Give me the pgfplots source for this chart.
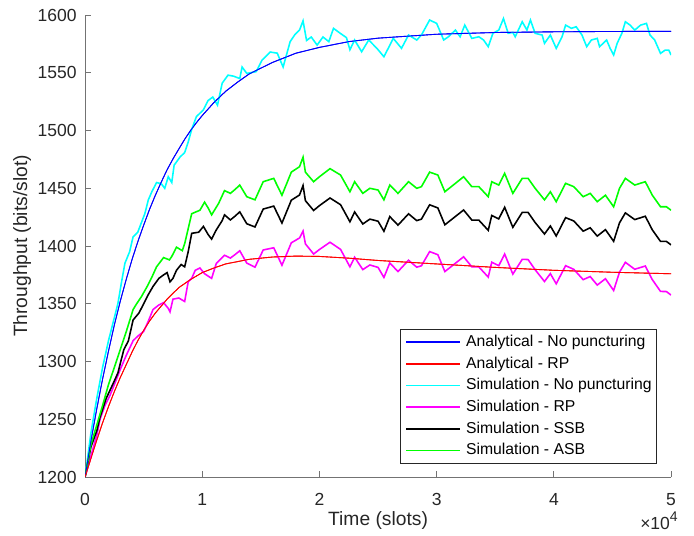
\documentclass[border=0pt]{standalone}
\usepackage{pgfplots}
\pgfplotsset{compat=1.18}
\usepackage{fontspec}
\setmainfont{Liberation Sans}
\definecolor{axgray}{rgb}{0.15,0.15,0.15}
\definecolor{mblue}{rgb}{0,0,1}
\definecolor{mred}{rgb}{1,0,0}
\definecolor{mcyan}{rgb}{0,1,1}
\definecolor{mmagenta}{rgb}{1,0,1}
\definecolor{mgreen}{rgb}{0,1,0}
\definecolor{mblack}{rgb}{0,0,0}
\pgfplotstableread{
t v
0 1200
500 1231
1000 1259
1500 1285
2000 1309
2500 1331.6
3000 1352
3500 1370.6
4000 1388
4500 1403.7
5000 1418
5500 1431.7
6000 1444
6500 1455.3
7000 1466
7500 1475.4
8000 1484
8500 1492.4
9000 1500
9500 1506.8
10000 1513
11000 1524.3
12000 1534
13000 1541.8
14000 1549
16000 1559
18000 1567
20000 1572
22500 1577
25000 1580
30000 1583.4
35000 1584.9
40000 1585.5
45000 1585.8
50000 1585.9
}\anablue
\pgfplotstableread{
t v
0 1200
500 1216
1000 1232
1500 1247
2000 1261
2500 1274
3000 1286
3500 1297
4000 1308
4500 1318
5000 1327
5500 1335
6000 1342
7000 1354
8000 1364
9000 1371
10000 1377
11000 1381
12000 1384.5
14000 1388.5
16000 1390.5
18000 1391.3
20000 1391
22500 1389.5
25000 1387.5
30000 1384.5
35000 1381.5
40000 1379
45000 1377.3
50000 1376
}\anared
\begin{document}
\begin{tikzpicture}
\useasboundingbox (-48.6pt,-33.7pt) rectangle (348pt,272.6pt);
\begin{axis}[
  name=ax,
  at={(0pt,0pt)}, anchor=south west,
  scale only axis, width=334.9pt, height=264pt,
  xmin=0, xmax=50000, ymin=1200, ymax=1600,
  axis x line*=bottom, axis y line*=left,
  axis line style={-, draw=black!55, line width=0.55pt},
  every tick/.style={draw=black!55, line width=0.55pt},
  tick align=inside, major tick length=3.3pt,
  xtick={0,10000,20000,30000,40000,50000},
  xticklabels={0,1,2,3,4,5},
  scaled x ticks=false,
  ytick={1200,1250,1300,1350,1400,1450,1500,1550,1600},
  /pgf/number format/assume math mode=true,
  /pgf/number format/1000 sep={},
  tick label style={font=\fontsize{10}{12}\selectfont, text=axgray},
  xticklabel style={yshift=-6pt},
  yticklabel style={xshift=-1.3pt},
  xlabel={Time (slots)},
  ylabel={Throughput (bits/slot)},
  label style={font=\fontsize{11}{13}\selectfont, text=axgray},
  xlabel style={at={(axis description cs:0.5,-0.094)}, anchor=center},
  ylabel style={at={(axis description cs:-0.1075,0.5)}, anchor=center, rotate=0},
  legend cell align=left,
  legend image code/.code={\draw[#1] (0pt,0pt) -- (31pt,0pt);},
  legend image post style={line width=1pt},
  legend style={at={(axis description cs:1,0)}, anchor=south east, xshift=-8pt, yshift=7.4pt,
    draw=axgray, line width=0.4pt, fill=white, inner xsep=2.9pt, inner ysep=3pt,
    row sep=3.4pt, font=\fontsize{9}{11}\selectfont,
    nodes={inner sep=0pt, text height=7pt, text depth=2pt},
    /tikz/every odd column/.append style={column sep=2.7pt}},
]
\addplot[color=mblue, line width=0.5pt] table[x=t,y=v] {\anablue};
\addlegendentry{Analytical - No puncturing}
\addplot[color=mred, line width=0.5pt] table[x=t,y=v] {\anared};
\addlegendentry{Analytical - RP}
% Simulation - No puncturing
\addplot[color=mcyan, line width=0.9pt] coordinates {
(0,1200) (500,1238) (1000,1268) (1500,1295) (2000,1318) (2500,1338) (2800,1350) (3100,1368) (3400,1385) (3800,1395)
(4100,1408) (4500,1412) (4800,1420) (5100,1428) (5400,1440) (5700,1447) (6100,1455) (6500,1454) (6800,1450) (7100,1460)
(7400,1455) (7600,1470) (8100,1477) (8500,1481) (8800,1490) (9100,1501) (9500,1512) (10100,1518) (10500,1526) (10900,1529)
(11300,1522) (11700,1541) (12200,1548) (12700,1547) (13200,1545) (13400,1555) (13800,1549.5) (14600,1551) (15100,1561) (15800,1568)
(16400,1567) (16900,1555) (17500,1577) (17900,1583) (18300,1587) (18600,1595) (18900,1578) (19300,1581) (19800,1574) (20300,1581)
(20800,1577) (21200,1588.5) (21800,1584) (22300,1580.5) (22600,1570) (23000,1578.4) (23600,1568.2) (24200,1578.4) (24900,1571.2) (25500,1563.9)
(26300,1579.8) (27000,1571.2) (27600,1582.7) (28300,1578.4) (28700,1582.7) (29400,1595.7) (30000,1592.8) (30600,1578.4) (31000,1581.2) (31600,1587)
(32000,1581.2) (32400,1591.3) (33000,1579.8) (33600,1581.2) (34000,1578.4) (34400,1572.6) (34800,1584.2) (35300,1587) (35700,1597) (36100,1584.2)
(36500,1585) (36700,1581.2) (37300,1594.2) (37700,1587) (38000,1595.7) (38400,1584.2) (39000,1582.7) (39200,1575.5) (39700,1582.7) (40200,1571.2)
(40700,1581.2) (41000,1591.3) (41500,1588.5) (41900,1589.9) (42400,1582.7) (42800,1572.6) (43200,1578.4) (43700,1579.8) (43900,1572.6) (44500,1578.4)
(44800,1571.2) (45100,1565.4) (45400,1575.5) (45800,1584.2) (46100,1594.2) (46500,1591.3) (46900,1587) (47400,1591.3) (47900,1592.8) (48200,1582.7)
(48600,1578.4) (49100,1566.8) (49500,1569.7) (49800,1569.7) (50000,1565.4)
};
\addlegendentry{Simulation - No puncturing}
% Simulation - RP
\addplot[color=mmagenta, line width=0.9pt] coordinates {
(0,1200) (500,1218) (1000,1236) (1280,1250) (1700,1262) (2100,1270) (2500,1280) (3000,1293) (3500,1305) (4100,1318)
(4500,1322) (5000,1326) (5400,1335) (5800,1345) (6300,1349) (6700,1351) (7100,1346) (7250,1343) (7500,1354) (8000,1355)
(8500,1352) (8800,1369) (9100,1372) (9400,1379) (9800,1381) (10200,1376) (10800,1372) (11200,1385) (11900,1392)
(12400,1389.6) (12800,1392.6) (13200,1395.9) (13800,1385.2) (14500,1381.7) (15200,1396.6) (16100,1398.5) (16800,1383.4) (17600,1402.8) (18300,1407)
(18600,1413) (18800,1401.9) (19500,1393.1) (20000,1397) (20900,1403.3) (21800,1397.1) (22600,1382) (23000,1390.3) (23700,1379.6) (24300,1383.6)
(25000,1381.5) (25500,1372.8) (26000,1385.4) (26700,1377.9) (27600,1387.7) (28300,1381.7) (28700,1382.9) (29400,1395.2) (30100,1392.5) (30700,1377.9)
(31600,1385.1) (32300,1390.7) (33000,1382) (33600,1381.9) (34400,1373.1) (34700,1386) (35300,1383) (35800,1393.1) (36500,1375.7) (37300,1388.5)
(37800,1388.3) (38400,1379.5) (39200,1369.3) (39700,1376.1) (40200,1367.3) (41000,1383) (41700,1379.8) (42500,1370.9) (43100,1373.6) (43700,1366.2)
(44400,1371.7) (45100,1361.5) (45600,1377.4) (46100,1385.9) (46900,1379.9) (47800,1382.7) (48400,1370.9) (49100,1360.7) (49600,1360.6) (50000,1357.5)
};
\addlegendentry{Simulation - RP}
% Simulation - SSB
\addplot[color=mblack, line width=0.9pt] coordinates {
(0,1200) (500,1226) (1000,1240) (1280,1252) (1800,1268) (2400,1281) (2800,1290) (3300,1310) (3700,1318) (4100,1336)
(4600,1342) (5000,1350) (5400,1358) (5800,1365) (6300,1372) (6700,1375) (7000,1377) (7250,1369) (7500,1372) (7800,1379)
(8200,1384) (8500,1382) (8800,1395) (9100,1411) (9700,1412) (10100,1417) (10500,1410) (10800,1406) (11200,1414) (11700,1422)
(11900,1427)
(12400,1422.6) (12800,1425.9) (13200,1429.6) (13800,1419.3) (14500,1416.5) (15200,1432) (16100,1434.6) (16800,1419.9) (17600,1439.7) (18300,1444.2)
(18600,1452.4) (18800,1439.3) (19500,1430.8) (20000,1435) (20900,1441.6) (21800,1435.8) (22600,1421) (23000,1429.5) (23700,1419.1) (24300,1423.3)
(25000,1421.5) (25500,1412.8) (26000,1425.5) (26700,1418.1) (27600,1427.9) (28300,1422) (28700,1423.3) (29400,1435.7) (30100,1433) (30700,1418.4)
(31600,1425.6) (32300,1431.2) (33000,1422.5) (33600,1422.4) (34400,1413.6) (34700,1426.5) (35300,1423.5) (35800,1433.6) (36500,1416.2) (37300,1429.1)
(37800,1429.1) (38400,1420.4) (39200,1410.4) (39700,1417.4) (40200,1408.7) (41000,1424.6) (41700,1421.7) (42500,1412.9) (43100,1415.8) (43700,1408.6)
(44400,1414.2) (45100,1404.1) (45600,1420.1) (46100,1428.7) (46900,1422.9) (47800,1425.8) (48400,1414) (49100,1404) (49600,1404) (50000,1401)
};
\addlegendentry{Simulation - SSB}
% Simulation - ASB
\addplot[color=mgreen, line width=0.9pt] coordinates {
(0,1200) (500,1228) (1000,1245) (1500,1262) (2000,1280) (2700,1301) (3550,1327) (4100,1345) (4400,1350) (4800,1356)
(5300,1365) (5700,1373) (6100,1382) (6700,1390) (7200,1388) (7400,1391) (7800,1399) (8300,1396) (8500,1402) (8800,1415)
(9100,1428) (9800,1431) (10200,1438) (10500,1433) (10800,1427) (11400,1437) (11900,1448)
(12400,1445.6) (12800,1449) (13200,1452.8) (13800,1442.7) (14500,1440) (15200,1455.7) (16100,1458.6) (16800,1444) (17600,1464) (18300,1468.7)
(18600,1477) (18800,1464) (19500,1455.7) (20000,1460) (20900,1467) (21800,1461.5) (22600,1447) (23000,1455.7) (23700,1445.6) (24300,1450)
(25000,1448.5) (25500,1440) (26000,1452.8) (26700,1445.6) (27600,1455.7) (28300,1450) (28700,1451.4) (29400,1464) (30100,1461.5) (30700,1447)
(31600,1454.3) (32300,1460) (33000,1451.4) (33600,1451.4) (34400,1442.7) (34700,1455.7) (35300,1452.8) (35800,1462.9) (36500,1445.6) (37300,1458.6)
(37800,1458.6) (38400,1450) (39200,1440) (39700,1447) (40200,1438.4) (41000,1454.3) (41700,1451.4) (42500,1442.7) (43100,1445.6) (43700,1438.4)
(44400,1444) (45100,1434) (45600,1450) (46100,1458.6) (46900,1452.8) (47800,1455.7) (48400,1444) (49100,1434) (49600,1434) (50000,1431)
};
\addlegendentry{Simulation - ASB}
% analytical curves again on top
\addplot[color=mblue, line width=0.5pt, forget plot] table[x=t,y=v] {\anablue};
\addplot[color=mred, line width=0.5pt, forget plot] table[x=t,y=v] {\anared};
\end{axis}
\node[anchor=north east, inner sep=0pt, xshift=4pt, yshift=-20pt, font=\fontsize{10}{12}\selectfont, text=axgray] at (ax.south east) {×10\raisebox{0.85ex}{\fontsize{8}{9}\selectfont 4}};
\end{tikzpicture}
\end{document}
